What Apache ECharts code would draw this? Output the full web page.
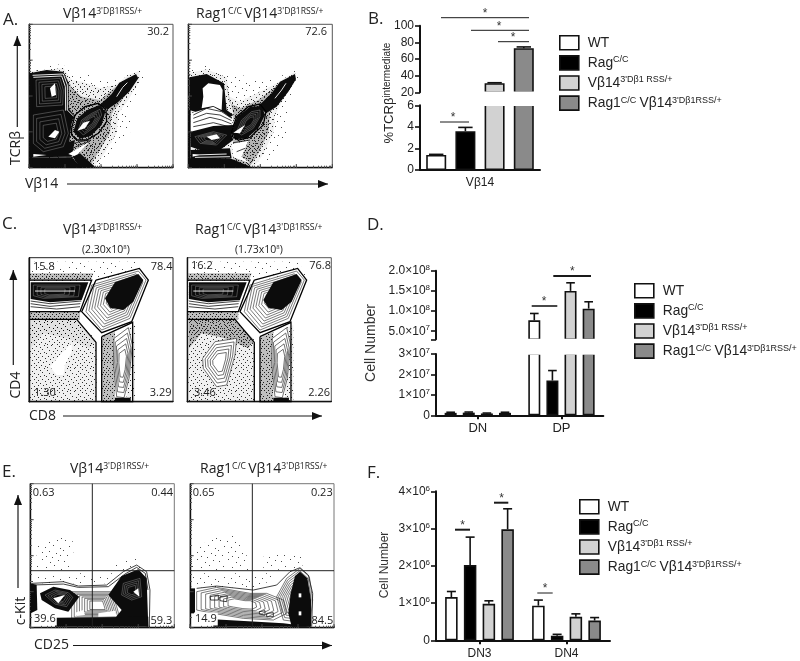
<!DOCTYPE html>
<html><head><meta charset="utf-8">
<style>html,body{margin:0;padding:0;background:#fff}#c{width:800px;height:661px}</style>
<script src="https://cdn.jsdelivr.net/npm/echarts@6/dist/echarts.min.js"></script></head>
<body><div id="c"></div>
<script>
// ---------- bar chart data ----------
const seriesNames = ['WT', 'RagC/C', 'Vb14', 'Rag1C/C Vb14'];
const categoriesB = ['Vβ14'];
const valuesB = [[1.4], [3.6], [31], [73]];
const errorsB = [[1.45], [3.95], [31.5], [74.5]];
const categoriesD = ['DN', 'DP'];
const valuesD = [[1.2e6, 7.7e7], [1.3e6, 1.7e7], [0.9e6, 1.5e8], [1.2e6, 1.06e8]];
const errorsD = [[1.5e6, 9.4e7], [1.6e6, 2.19e7], [1.1e6, 1.7e8], [1.5e6, 1.23e8]];
const categoriesF = ['DN3', 'DN4'];
const valuesF = [[1.16e6, 0.93e6], [2.02e6, 0.12e6], [0.98e6, 0.63e6], [2.98e6, 0.53e6]];
const errorsF = [[1.31e6, 1.08e6], [2.77e6, 0.16e6], [1.06e6, 0.71e6], [3.53e6, 0.61e6]];
const ticksBLow = [0, 2, 4, 6];
const ticksBHigh = [20, 40, 60, 80, 100];
const ticksDLow = [0, 1e7, 2e7, 3e7];
const ticksDHigh = [5e7, 1e8, 1.5e8, 2e8];
const ticksF = [0, 1e6, 2e6, 3e6, 4e6];

// ---------- flow cytometry regions, in channel units [kind, outline] ----------
const flowA1 = [
 ['sparse',[[88,205],[135,190],[190,195],[220,220],[255,218],[300,235],[350,240],[385,218],[425,203],[435,230],[405,290],[385,325],[395,390],[360,440],[325,480],[295,502],[88,502]]],
 ['dense',[[88,214],[190,204],[216,240],[250,245],[300,265],[345,255],[385,225],[418,212],[420,240],[385,300],[355,340],[350,400],[310,465],[282,500],[88,500]]],
 ['heavy',[[190,215],[215,262],[245,290],[300,300],[345,262],[385,232],[400,240],[370,295],[335,340],[330,400],[290,465],[270,498],[200,498]]],
 ['black',[[88,220],[140,210],[190,215],[206,250],[206,325],[222,345],[214,375],[208,425],[225,420],[215,470],[88,472]]],
 ['wline',[[97,226],[190,222],[202,255],[202,330],[220,348]]],
 ['wline',[[100,232],[185,228],[196,260],[197,332]]],
 ['wring',[[108,240],[180,235],[190,270],[188,315],[110,320]]],
 ['wring',[[100,345],[190,330],[205,400],[190,440],[130,455],[100,430]]],
 ['white',[[145,410],[165,390],[178,395],[165,415]]],
 ['white',[[150,265],[165,250],[168,285],[155,290]]],
 ['black',[[220,395],[232,355],[262,330],[298,315],[316,335],[305,375],[272,408],[240,416]]],
 ['wring',[[235,390],[245,360],[275,340],[300,328],[305,345],[285,380],[250,405]]],
 ['white',[[232,392],[250,368],[270,362],[255,385]]],
 ['black',[[298,316],[335,282],[358,248],[408,222],[415,235],[388,275],[352,308],[322,328]]],
 ['wline',[[350,290],[368,262],[382,248]]],
 ['gate',[[215,385],[225,345],[255,320],[295,310],[318,330],[320,365],[295,400],[260,420],[230,420],[215,405],[215,385]]],
 ['white',[[205,462],[235,445],[268,425],[240,455],[228,470]]],
 ['line',[[215,432],[240,425],[272,420]]],
 ['line',[[208,450],[240,434],[270,424]]],
 ['black',[[88,472],[215,472],[245,503],[88,503]]],
 ['black',[[218,470],[240,460],[285,500],[240,503]]],
 ['black',[[88,222],[97,222],[97,503],[88,503]]],
 ['white',[[100,462],[140,465],[100,470]]]
];
const flowA2 = [
 ['sparse',[[568,205],[620,195],[680,220],[740,228],[790,240],[830,235],[888,205],[900,225],[880,280],[860,330],[870,390],[840,440],[805,480],[775,502],[568,502]]],
 ['dense',[[568,218],[620,208],[680,232],[690,290],[720,305],[760,285],[820,255],[885,215],[888,240],[855,290],[825,345],[820,400],[785,470],[762,500],[568,500]]],
 ['heavy',[[675,240],[690,310],[720,325],[775,300],[840,250],[870,235],[840,295],[810,340],[805,400],[770,470],[750,498],[700,495],[700,340]]],
 ['black',[[568,232],[620,222],[672,250],[680,330],[700,345],[690,352],[640,330],[600,340],[568,330]]],
 ['white',[[608,265],[625,250],[660,255],[668,270],[665,330],[640,318],[605,325],[610,290]]],
 ['white',[[572,340],[640,320],[672,338],[700,360],[690,385],[572,395]]],
 ['line',[[580,345],[620,325],[665,335],[695,355]]],
 ['line',[[580,355],[620,340],[660,345],[695,362]]],
 ['line',[[580,368],[630,352],[665,360],[695,372]]],
 ['line',[[580,380],[640,368],[695,382]]],
 ['black',[[572,395],[640,378],[700,375],[695,405],[700,420],[660,450],[600,450],[572,440]]],
 ['wring',[[585,410],[640,395],[680,405],[650,435],[600,430]]],
 ['white',[[620,410],[650,403],[660,415],[635,420]]],
 ['black',[[565,330],[572,330],[572,503],[565,503]]],
 ['black',[[695,395],[712,350],[750,320],[785,318],[795,345],[775,385],[740,415],[705,418]]],
 ['wring',[[710,395],[725,360],[755,335],[780,330],[780,350],[760,385],[725,405]]],
 ['white',[[700,398],[720,385],[735,375],[720,400]]],
 ['black',[[775,318],[815,280],[840,245],[885,222],[888,238],[865,275],[830,320],[798,340]]],
 ['wline',[[825,295],[845,270],[858,250]]],
 ['gate',[[695,395],[710,350],[745,320],[780,312],[798,335],[790,375],[750,412],[715,420],[698,410],[695,395]]],
 ['black',[[572,450],[690,445],[695,475],[572,480]]],
 ['wline',[[580,465],[680,462]]],
 ['wline',[[585,472],[690,470]]],
 ['white',[[578,462],[598,465],[578,470]]],
 ['white',[[695,432],[745,422],[725,470],[750,490],[700,472]]],
 ['line',[[700,428],[750,420]]],
 ['line',[[710,455],[735,445]]],
 ['black',[[565,475],[690,475],[760,503],[565,503]]]
];
const flowCGates = [
 ['gate',[[87,225],[275,225],[240,320],[87,320]]],
 ['gate',[[88,343],[230,343],[288,412],[288,590]]],
 ['gate',[[305,395],[398,352],[398,590],[305,590],[305,395]]],
 ['gate',[[288,225],[418,190],[445,225],[395,350],[305,383],[245,320],[288,225]]]
];
const flowC1 = [
 ['sparse',[[100,170],[420,170],[445,215],[290,222],[90,222]]],
 ['dense',[[90,345],[235,345],[290,410],[290,588],[90,588]]],
 ['dense',[[92,345],[230,345],[288,405],[270,430],[200,400],[130,385],[92,430]]],
 ['heavy',[[305,398],[345,380],[345,588],[305,588]]],
 ['dense',[[380,370],[405,360],[405,588],[380,588]]],
 ['heavy',[[90,205],[280,205],[240,320],[240,345],[90,345]]],
 ['white',[[150,485],[185,445],[215,415],[215,440],[195,480],[190,510],[170,510]]],
 ['white',[[90,228],[272,228],[240,318],[90,318]]],
 ['black',[[92,232],[265,232],[245,285],[150,292],[92,282]]],
 ['wring',[[100,240],[240,240],[235,275],[130,280],[100,272]]],
 ['wline',[[105,258],[225,258]]],
 ['line',[[92,288],[150,296],[244,288]]],
 ['line',[[92,296],[150,304],[241,296]]],
 ['line',[[92,305],[170,312],[240,305]]],
 ['white',[[275,240],[415,198],[438,225],[390,340],[305,375],[258,320]]],
 ['ring',[[275,240],[415,198],[438,225],[390,340],[305,375],[258,320]]],
 ['black',[[315,280],[345,232],[415,207],[430,225],[400,290],[370,315],[330,308]]],
 ['white',[[342,400],[385,368],[397,420],[387,520],[372,578],[350,575],[340,470]]],
 ['ringS',[[342,400],[385,368],[397,420],[387,520],[372,578],[350,575],[340,470]]],
 ['black',[[345,578],[392,578],[392,590],[345,590]]]
].concat(flowCGates);
const flowC2 = [
 ['sparse',[[100,170],[420,170],[445,215],[290,222],[90,222]]],
 ['dense',[[90,345],[235,345],[290,410],[290,588],[90,588]]],
 ['heavy',[[92,345],[230,345],[288,405],[270,430],[200,400],[130,385],[92,430]]],
 ['heavy',[[305,398],[345,380],[345,588],[305,588]]],
 ['dense',[[380,370],[405,360],[405,588],[380,588]]],
 ['heavy',[[90,205],[280,205],[240,320],[240,345],[90,345]]],
 ['white',[[133,460],[170,410],[235,400],[230,450],[205,540],[175,545],[135,490]]],
 ['ringS',[[133,460],[170,410],[235,400],[230,450],[205,540],[175,545],[135,490]]],
 ['white',[[90,228],[272,228],[240,318],[90,318]]],
 ['black',[[92,232],[265,232],[245,285],[150,292],[92,282]]],
 ['wring',[[100,240],[240,240],[235,275],[130,280],[100,272]]],
 ['wline',[[105,258],[225,258]]],
 ['line',[[92,288],[150,296],[244,288]]],
 ['line',[[92,296],[150,304],[241,296]]],
 ['line',[[92,305],[170,312],[240,305]]],
 ['white',[[275,240],[415,198],[438,225],[390,340],[305,375],[258,320]]],
 ['ring',[[275,240],[415,198],[438,225],[390,340],[305,375],[258,320]]],
 ['black',[[315,285],[345,232],[415,207],[430,225],[400,290],[370,315],[330,308]]],
 ['white',[[342,400],[385,368],[397,420],[387,520],[372,578],[350,575],[340,470]]],
 ['ringS',[[342,400],[385,368],[397,420],[387,520],[372,578],[350,575],[340,470]]],
 ['black',[[345,578],[392,578],[392,590],[345,590]]]
].concat(flowCGates);
const flowE1 = [
 ['sparse',[[110,290],[180,245],[225,280],[210,362],[110,362]]],
 ['sparse',[[330,350],[400,315],[430,350],[400,362],[330,362]]],
 ['sparse',[[95,375],[220,370],[350,370],[330,400],[95,400]]],
 ['line',[[95,400],[190,395],[235,408],[320,405],[370,365],[410,345],[440,365],[450,420],[448,530]]],
 ['line',[[95,405],[190,402],[235,412],[325,410],[375,372],[410,352],[436,370],[444,420]]],
 ['ring',[[215,425],[335,425],[350,470],[360,505],[215,505]]],
 ['black',[[325,435],[365,378],[415,358],[440,385],[445,530],[345,505],[365,480]]],
 ['wring',[[370,400],[420,385],[425,440],[395,450],[365,435]]],
 ['white',[[400,425],[415,415],[418,440]]],
 ['black',[[92,400],[110,405],[112,480],[92,490]]],
 ['black',[[120,430],[160,410],[210,420],[238,440],[205,485],[165,475],[125,450]]],
 ['wring',[[135,435],[165,420],[205,428],[218,442],[200,470],[165,462]]],
 ['white',[[160,445],[195,435],[175,460]]],
 ['white',[[225,488],[250,480],[255,495],[230,498]]],
 ['white',[[295,490],[345,482],[350,498],[295,500]]],
 ['black',[[165,503],[445,500],[445,530],[165,530]]],
 ['gridline',[[90,362],[523,362]]],
 ['gridline',[[277,101],[277,533]]]
];
const flowE2 = [
 ['sparse',[[575,300],[640,265],[720,255],[755,362],[575,362]]],
 ['sparse',[[790,320],[900,305],[910,362],[790,358]]],
 ['sparse',[[575,370],[880,370],[760,412],[575,412]]],
 ['line',[[590,415],[650,408],[760,420],[830,405],[870,365],[900,353],[925,375],[938,430],[935,530]]],
 ['ring',[[590,425],[650,412],[750,430],[800,430],[850,450],[860,490],[820,510],[730,505],[640,490],[590,480]]],
 ['ring',[[830,440],[860,385],[900,355],[928,380],[938,450],[930,520],[850,510]]],
 ['black',[[570,415],[585,415],[585,490],[570,490]]],
 ['black',[[872,430],[885,378],[900,365],[922,385],[933,450],[933,530],[875,530],[865,490]]],
 ['white',[[896,430],[904,430],[904,442],[896,442]]],
 ['white',[[896,484],[904,484],[904,496],[896,496]]],
 ['line',[[630,440],[655,435],[655,450],[632,450],[630,440]]],
 ['line',[[660,440],[682,437],[680,455],[660,452],[660,440]]],
 ['line',[[778,485],[795,482],[795,495],[778,492],[778,485]]],
 ['line',[[800,490],[820,488],[820,500],[800,500],[800,490]]],
 ['black',[[640,508],[850,520],[935,530],[640,530]]],
 ['gridline',[[570,362],[1002,362]]],
 ['gridline',[[757,101],[757,533]]]
];
// gate frequencies [value, anchor side, page x, page y]
const statsText = [
 ['30.2','right',169,32],['72.6','right',327,32],
 ['15.8','left',33,266.5],['78.4','right',172.5,266.5],['1.30','left',34,393],['3.29','right',171.5,393],
 ['16.2','left',191,266],['76.8','right',331,266],['3.46','left',194,393],['2.26','right',330,393],
 ['0.63','left',32.7,492.5],['0.44','right',173,492.5],['59.3','right',172.3,620.5],
 ['0.65','left',192.7,492.5],['0.23','right',332.7,492.5],['84.5','right',333.3,620.5]
];
const boxedText = [['39.6',33,619],['14.9',194,619]];

// ---------- speckle tiles used as fill for the dot regions ----------
const sparseDots = [[2,3],[11,1],[19,4],[27,2],[6,8],[15,9],[23,7],[30,11],[3,13],[10,14],[18,15],[26,13],[7,19],[14,20],[22,18],[29,21],[1,23],[11,25],[18,24],[25,26],[5,28],[15,29],[21,30],[29,28]];
const denseDots = [[1,2],[5,0],[9,3],[13,1],[17,2],[21,0],[3,5],[7,6],[11,5],[15,6],[19,4],[0,8],[5,9],[9,8],[13,9],[17,8],[21,7],[2,11],[7,12],[11,11],[15,12],[19,11],[22,13],[4,14],[9,15],[13,14],[17,15],[0,16],[6,17],[11,18],[15,17],[20,17],[3,19],[8,20],[13,20],[18,20],[22,21],[1,22],[6,22],[11,22],[16,22]];
const heavyDots = [[0,0],[3,1],[6,0],[9,2],[1,3],[5,3],[8,4],[11,4],[3,5],[0,6],[6,6],[10,6],[2,8],[5,8],[8,8],[12,8],[0,10],[4,10],[7,10],[10,10],[2,12],[6,12],[9,12],[12,12]];
function tile(size, dots, a, bg) {
  const cv = document.createElement('canvas'); cv.width = cv.height = size;
  const g = cv.getContext('2d');
  g.fillStyle = 'rgba(0,0,0,' + bg + ')'; g.fillRect(0, 0, size, size);
  g.fillStyle = 'rgba(0,0,0,' + a + ')';
  dots.forEach(d => g.fillRect(d[0], d[1], 1, 1));
  return { image: cv, repeat: 'repeat' };
}
const fills = { sparse: tile(31, sparseDots, .7, 0), dense: tile(23, denseDots, .8, .06), heavy: tile(14, heavyDots, .85, .25) };

const UI = '"Open Sans","Noto Sans",sans-serif';
const BARFONT = '"Liberation Sans",Arial,sans-serif';
const grids = [], xAxes = [], yAxes = [], series = [], graphics = [];

// ---------- flow panels ----------
function scaled(pts, k) {
  let cx = 0, cy = 0; pts.forEach(p => { cx += p[0]; cy += p[1]; }); cx /= pts.length; cy /= pts.length;
  return pts.map(p => [cx + (p[0] - cx) * k, cy + (p[1] - cy) * k]);
}
function logTicks(start, dir, pitch) {
  const major = [], minor = [];
  const off = [0, .301, .477, .602, .699, .778, .845, .903, .954];
  for (let d = 0; d < 4; d++) off.forEach((o, i) => { const v = start + dir * (d + o) * pitch; (i ? minor : major).push(v); });
  major.push(start + dir * 4 * pitch);
  return { major, minor };
}
const ringStyle = {
  ring: { n: 8, span: .78, stroke: '#222', lineWidth: .6 },
  ringS: { n: 5, span: .75, stroke: '#333', lineWidth: .7 },
  wring: { n: 4, span: .75, stroke: 'rgba(255,255,255,.42)', lineWidth: .6 }
};
function shapeEl(s, api) {
  const kind = s[0], pts = s[1].map(p => api.coord(p));
  const poly = (pp, style, closed) => ({ type: closed ? 'polygon' : 'polyline', shape: { points: pp }, style });
  switch (kind) {
    case 'sparse': case 'dense': case 'heavy': return poly(pts, { fill: fills[kind] }, true);
    case 'black': return poly(pts, { fill: '#0c0c0c' }, true);
    case 'white': return poly(pts, { fill: '#fff' }, true);
    case 'line': return poly(pts, { fill: 'none', stroke: '#111', lineWidth: .8 });
    case 'wline': return poly(pts, { fill: 'none', stroke: '#fff', lineWidth: .9 });
    case 'gate': return poly(pts, { fill: 'none', stroke: '#000', lineWidth: 1.3 });
    case 'gridline': return poly(pts, { fill: 'none', stroke: '#222', lineWidth: 1 });
    case 'tick': return poly(pts, { fill: 'none', stroke: '#444', lineWidth: 1 });
    case 'ring': case 'ringS': case 'wring': {
      const r = ringStyle[kind], children = [];
      for (let i = 0; i < r.n; i++) children.push(poly(scaled(s[1], 1 - i * r.span / r.n).map(p => api.coord(p)),
        { fill: 'none', stroke: r.stroke, lineWidth: r.lineWidth }, true));
      return { type: 'group', children };
    }
  }
}
function addFlow(rect, xr, yr, shapes, withTicks, frame) {
  const g = grids.length;
  grids.push(Object.assign({ show: true, borderColor: frame, borderWidth: 1, backgroundColor: 'transparent' }, rect));
  let list = shapes, xMinor = [], yMinor = [];
  if (withTicks) {
    const xt = logTicks(xr[0], 1, (xr[1] - xr[0]) / 4), yt = logTicks(yr[1], -1, (yr[1] - yr[0]) / 4);
    xMinor = xt.major.concat(xt.minor); yMinor = yt.major.concat(yt.minor);
    list = shapes.concat(xt.major.map(v => ['tick', [[v, yr[1]], [v, yr[1] - 11]]]))
                 .concat(yt.major.map(v => ['tick', [[xr[0], v], [xr[0] + 11, v]]]));
  }
  const axisLine = { show: true, onZero: false, lineStyle: { color: '#111', width: 1.4 } };
  const tick = vals => ({ show: withTicks, inside: true, length: 2, customValues: vals, lineStyle: { color: '#555', width: 1 } });
  xAxes.push({ gridIndex: g, type: 'value', min: xr[0], max: xr[1], position: 'bottom', axisLine, axisTick: tick(xMinor), axisLabel: { show: false }, splitLine: { show: false } });
  yAxes.push({ gridIndex: g, type: 'value', min: yr[0], max: yr[1], inverse: true, position: 'left', axisLine, axisTick: tick(yMinor), axisLabel: { show: false }, splitLine: { show: false } });
  series.push({
    type: 'custom', coordinateSystem: 'cartesian2d', xAxisIndex: g, yAxisIndex: g, silent: true, animation: false,
    data: list.map((_, i) => [xr[0], yr[0], i]), encode: { x: 0, y: 1 },
    renderItem: (p, api) => shapeEl(list[p.dataIndex], api)
  });
}
addFlow({ left: 29, top: 24.3, width: 144, height: 143.4 }, [87, 519], [73, 503], flowA1, true, '#555');
addFlow({ left: 188.3, top: 24.3, width: 144, height: 143.4 }, [565, 997], [73, 503], flowA2, true, '#555');
addFlow({ left: 29, top: 257.7, width: 144, height: 144 }, [87, 519], [158, 590], flowC1, false, '#222');
addFlow({ left: 187.3, top: 257.7, width: 144, height: 144 }, [87, 519], [158, 590], flowC2, false, '#555');
addFlow({ left: 30, top: 483.7, width: 144.3, height: 144 }, [90, 523], [101, 533], flowE1, true, '#777');
addFlow({ left: 190, top: 483.7, width: 144, height: 144 }, [570, 1002], [101, 533], flowE2, true, '#777');

// ---------- bar panels ----------
const barColors = ['#ffffff', '#000000', '#d2d2d2', '#8a8a8a'];
function addBars(rect, cats, vals, errs, cfg) {
  const g = grids.length;
  grids.push(rect);
  xAxes.push({
    gridIndex: g, type: 'category', data: cats, show: cfg.showX,
    axisLine: { show: cfg.showX, lineStyle: { color: '#111', width: 2 } },
    axisTick: { show: cfg.xTick === true, alignWithLabel: true, length: 4, lineStyle: { color: '#111', width: 2 } },
    axisLabel: { show: cfg.showX, color: '#222', fontFamily: BARFONT, fontSize: cfg.xFont, margin: cfg.xMargin }
  });
  yAxes.push({
    gridIndex: g, type: 'value', min: cfg.min, max: cfg.max, position: 'left',
    axisLine: { show: true, onZero: false, lineStyle: { color: '#111', width: 2 } },
    axisTick: { show: true, length: 5, customValues: cfg.tickVals || cfg.labels, lineStyle: { color: '#111', width: 1.6 } },
    axisLabel: { customValues: cfg.labels, color: '#222', fontFamily: BARFONT, fontSize: 12, margin: 6, formatter: cfg.fmt, rich: { s: { fontSize: 8, fontFamily: BARFONT, color: '#222', verticalAlign: 'top', padding: [0, 0, 6, 0] } } },
    splitLine: { show: false }
  });
  vals.forEach((v, i) => series.push({
    type: 'bar', name: seriesNames[i], xAxisIndex: g, yAxisIndex: g, data: v, barWidth: cfg.barW, barGap: cfg.gap, clip: true, animation: false, silent: true,
    itemStyle: { color: barColors[i], borderColor: '#111', borderWidth: 1.6 }
  }));
  const ed = [];
  errs.forEach((e, i) => e.forEach((top, c) => { if (vals[i][c] < cfg.max && vals[i][c] >= cfg.min) ed.push([c, i, vals[i][c], top]); }));
  const pitch = cfg.barW * (1 + parseFloat(cfg.gap) / 100);
  series.push({
    type: 'custom', coordinateSystem: 'cartesian2d', xAxisIndex: g, yAxisIndex: g, silent: true, animation: false, z: 3,
    data: ed, encode: { x: 0, y: 3 },
    renderItem: (p, api) => {
      const a = api.coord([api.value(0), api.value(2)]), b = api.coord([api.value(0), api.value(3)]);
      const x = a[0] + (api.value(1) - 1.5) * pitch, w = cfg.barW * .36;
      const style = { stroke: '#111', lineWidth: 1.6, fill: 'none' };
      return { type: 'group', children: [
        { type: 'line', shape: { x1: x, y1: a[1], x2: x, y2: b[1] }, style },
        { type: 'line', shape: { x1: x - w, y1: b[1], x2: x + w, y2: b[1] }, style }
      ] };
    }
  });
}
const sci = v => { if (!v) return '0'; const e = Math.floor(Math.log10(v) + 1e-9); return (v / 10 ** e) + '×10{s|' + e + '}'; };
const sci1 = v => { const e = Math.floor(Math.log10(v) + 1e-9); return (v / 10 ** e).toFixed(1) + '×10{s|' + e + '}'; };
// B
addBars({ left: 420, top: 105.3, width: 120, height: 64.7 }, categoriesB, valuesB, errorsB, { showX: true, xFont: 12, xMargin: 7, min: 0, max: 6, labels: ticksBLow, fmt: v => '' + v, barW: 20, gap: '46%' });
addBars({ left: 420, top: 25.7, width: 120, height: 66.6 }, categoriesB, valuesB, errorsB, { showX: false, min: 20, max: 100, labels: ticksBHigh, fmt: v => '' + v, barW: 20, gap: '46%' });
// D
addBars({ left: 436, top: 354, width: 167.3, height: 61.3 }, categoriesD, valuesD, errorsD, { showX: true, xTick: true, xFont: 13, xMargin: 7, min: 0, max: 3e7, labels: ticksDLow, fmt: sci, barW: 12, gap: '51%' });
addBars({ left: 436, top: 270.7, width: 167.3, height: 68.6 }, categoriesD, valuesD, errorsD, { showX: false, min: 3e7, max: 2e8, labels: ticksDHigh, tickVals: [3e7].concat(ticksDHigh), fmt: sci1, barW: 12, gap: '51%' });
// F
addBars({ left: 436, top: 491.3, width: 174, height: 149 }, categoriesF, valuesF, errorsF, { showX: true, xTick: true, xFont: 12, xMargin: 7, min: 0, max: 4e6, labels: ticksF, fmt: sci, barW: 12.5, gap: '50%' });

// ---------- legends ----------
const legendRich = {
  n: { fontFamily: BARFONT, fontSize: 13.8, color: '#222', lineHeight: 15 },
  s: { fontFamily: BARFONT, fontSize: 9, color: '#222', lineHeight: 15, verticalAlign: 'top', padding: [0, 0, 4, 0] }
};
const legendText = {
  'WT': '{n|WT}', 'RagC/C': '{n|Rag}{s|C/C}',
  'Vb14': "{n|Vβ14}{s|3'Dβ1 RSS/+}", 'Rag1C/C Vb14': "{n|Rag1}{s|C/C} {n|Vβ14}{s|3'Dβ1RSS/+}"
};
const legend = [[559, 35], [634, 283], [579, 499]].map(p => ({
  left: p[0], top: p[1], orient: 'vertical', padding: 0, itemGap: 4.5, itemWidth: 19, itemHeight: 14, selectedMode: false, icon: 'rect',
  data: seriesNames, formatter: n => legendText[n], itemStyle: { borderColor: '#111', borderWidth: 1.6 },
  textStyle: { rich: legendRich, padding: [0, 0, 0, 4] }
}));

// ---------- text and annotations ----------
const TR = { s: { fontFamily: UI, fontSize: 8.6, color: '#222', verticalAlign: 'top' }, n: { fontFamily: UI, fontSize: 14, color: '#222' } };
function txt(t, x, y, opt) {
  opt = opt || {};
  graphics.push({ type: 'text', x, y, z: 100, rotation: opt.rot || 0, style: Object.assign({
    text: t, fill: opt.fill || '#222', fontFamily: opt.family || UI, fontSize: opt.size || 12,
    textAlign: opt.align || 'left', textVerticalAlign: 'middle', rich: opt.rich
  }, opt.extra || {}) });
}
function seg(x1, y1, x2, y2, w, z) {
  graphics.push({ type: 'line', z: z || 100, shape: { x1, y1, x2, y2 }, style: { stroke: '#1a1a1a', lineWidth: w || 1 } });
}
function arrow(x1, y1, x2, y2) {
  seg(x1, y1, x2, y2, 1.2);
  const h = y1 === y2;
  const d = h ? Math.sign(x2 - x1) : Math.sign(y2 - y1);
  const pts = h ? [[x2, y2], [x2 - d * 10, y2 - 4], [x2 - d * 10, y2 + 4]] : [[x2, y2], [x2 - 4, y2 - d * 10], [x2 + 4, y2 - d * 10]];
  graphics.push({ type: 'polygon', z: 100, shape: { points: pts }, style: { fill: '#111' } });
}
[['A.', 3, 20], ['B.', 368, 19], ['C.', 2, 224], ['D.', 367, 225], ['E.', 2, 472], ['F.', 367, 473]].forEach(a => txt(a[0], a[1], a[2], { size: 17 }));
const leftTitle = "{n|Vβ14}{s|3'Dβ1RSS/+}", rightTitle = "{n|Rag1}{s|C/C }{n|Vβ14}{s|3'Dβ1RSS/+}";
[[63, 196, 14], [63, 195, 230], [70, 200, 469]].forEach(r => {
  txt(leftTitle, r[0], r[2], { rich: TR }); txt(rightTitle, r[1], r[2], { rich: TR });
});
const expRich = { s: { fontFamily: UI, fontSize: 6, color: '#222', verticalAlign: 'top' }, n: { fontFamily: UI, fontSize: 10.5, color: '#222' } };
txt('{n|(2.30x10}{s|8}{n|)}', 82, 250, { rich: expRich });
txt('{n|(1.73x10}{s|8}{n|)}', 235, 250, { rich: expRich });
statsText.forEach(s => txt(s[0], s[2], s[3], { align: s[1], size: 11 }));
boxedText.forEach(s => txt(s[0], s[1], s[2], { size: 11, extra: { backgroundColor: '#fff', padding: [1, 1, 1, 1] } }));
txt('Vβ14', 25, 184, { size: 14 }); arrow(67, 184, 328, 184);
txt('TCRβ', 16, 148, { size: 14, rot: Math.PI / 2, align: 'center' }); arrow(17.3, 127, 17.3, 36);
txt('CD8', 29, 416, { size: 14 }); arrow(63, 416, 322, 416);
txt('CD4', 16, 385, { size: 14, rot: Math.PI / 2, align: 'center' }); arrow(13.3, 365, 13.3, 270);
txt('CD25', 34, 645.5, { size: 14 }); arrow(73, 645.5, 332, 645.5);
txt('c-Kit', 21, 611, { size: 14, rot: Math.PI / 2, align: 'center' }); arrow(18, 588, 18, 495);
const ylabRich = { n: { fontFamily: BARFONT, fontSize: 13, color: '#333' }, s: { fontFamily: BARFONT, fontSize: 10, color: '#333', verticalAlign: 'top' } };
txt('{n|%TCRβ}{s|intermediate}', 389, 93, { rich: ylabRich, rot: Math.PI / 2, align: 'center' });
txt('Cell Number', 371, 343, { family: BARFONT, size: 14, rot: Math.PI / 2, align: 'center', fill: '#333' });
txt('Cell Number', 385, 565, { family: BARFONT, size: 12, rot: Math.PI / 2, align: 'center', fill: '#333' });
// break covers
graphics.push({ type: 'rect', z: 50, shape: { x: 421.5, y: 91.5, width: 118, height: 14.5 }, style: { fill: '#fff' } });
graphics.push({ type: 'rect', z: 50, shape: { x: 437.5, y: 338.7, width: 165, height: 16 }, style: { fill: '#fff' } });
// significance brackets
const brackets = [
 [441,529,17.7,1,485],[471,529,30.3,1,499],[498,529,41.7,1,513],[440,469,122,1,453],
 [531.7,557.3,306,1.6,544],[553.3,591,276,2,572.3],
 [455,470,529.7,2,462.7],[494,508.3,502.7,2,501.7],[537.3,552.7,593,1,545]
];
brackets.forEach(b => {
  seg(b[0], b[2], b[1], b[2], b[3]);
  txt('*', b[4], b[2] - 4, { family: BARFONT, size: 12, align: 'center', fill: '#333' });
});

const chart = echarts.init(document.getElementById('c'), null, { renderer: 'canvas' });
chart.setOption({ animation: false, backgroundColor: '#fff', grid: grids, xAxis: xAxes, yAxis: yAxes, series, legend, graphic: { elements: graphics } });
</script></body></html>
